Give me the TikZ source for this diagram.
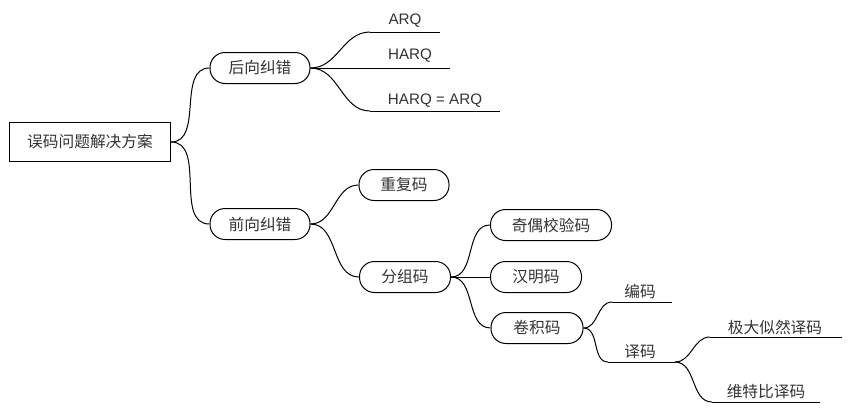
\documentclass[tikz,border=0pt]{standalone}
\usepackage{fontspec}
\setmainfont{Liberation Sans}
\newfontfamily\cjk{Noto Sans CJK SC}
\begin{document}
\begin{tikzpicture}[x=1pt,y=-1pt,line width=1pt,
  txt/.style={text=black!80,inner sep=0pt},
  cjkfont/.style={font=\cjk\fontsize{15.7}{18}\selectfont},
  latfont/.style={font=\fontsize{15.2}{18}\selectfont},
  rootbox/.style={draw,txt,cjkfont,minimum width=161pt,minimum height=39pt},
  pill/.style={draw,txt,cjkfont,rounded corners=15pt,minimum height=31pt},
  leaf/.style={txt,cjkfont},
  lleaf/.style={txt,latfont},
  link/.style={draw=black,line width=1pt},
  crv/.style={link,out=0,in=180,looseness=1}]
\useasboundingbox (0,0) rectangle (852,413);

% main nodes
\node[rootbox] (root) at (90,142) {误码问题解决方案};
\node[pill,minimum width=100pt] (hx) at (260,68) {后向纠错};
\node[pill,minimum width=100pt] (qx) at (260,224) {前向纠错};
\node[pill,minimum width=90pt] (cf) at (404,185) {重复码};
\node[pill,minimum width=91pt] (fz) at (405,277) {分组码};
\node[pill,minimum width=121pt] (jo) at (551,225) {奇偶校验码};
\node[pill,minimum width=91pt] (hm) at (536,277) {汉明码};
\node[pill,minimum width=92pt] (jj) at (537,328) {卷积码};

% leaf texts
\node[lleaf] (arq) at (405,21) {ARQ};
\node[lleaf] (harq) at (410,56) {HARQ};
\node[lleaf] (harq2) at (435,101) {HARQ = ARQ};
\node[leaf] (bm) at (640,291) {编码};
\node[leaf] (ym) at (640,352) {译码};
\node[leaf] (jd) at (775,327) {极大似然译码};
\node[leaf] (wt) at (766,392) {维特比译码};

% underline coordinates
\coordinate (arqA) at (370,32);  \coordinate (arqB) at (440,32);
\coordinate (harqB) at (450,68);
\coordinate (harq2A) at (370,111); \coordinate (harq2B) at (500,111);
\coordinate (bmA) at (612,302); \coordinate (bmB) at (672,302);
\coordinate (ymA) at (608,362); \coordinate (ymB) at (675,362);
\coordinate (jdA) at (710,337); \coordinate (jdB) at (842,337);
\coordinate (wtA) at (712,402); \coordinate (wtB) at (820,402);

% connectors
\draw[crv] (root.east) to (hx.west);
\draw[crv] (root.east) to (qx.west);
\draw[crv] (hx.east) to (arqA);
\draw[link] (arqA) -- (arqB);
\draw[link] (hx.east) -- (harqB);
\draw[crv] (hx.east) to (harq2A);
\draw[link] (harq2A) -- (harq2B);
\draw[crv] (qx.east) to (cf.west);
\draw[crv] (qx.east) to (fz.west);
\draw[crv] (fz.east) to (jo.west);
\draw[link] (fz.east) -- (hm.west);
\draw[crv] (fz.east) to (jj.west);
\draw[crv] (jj.east) to (bmA);
\draw[link] (bmA) -- (bmB);
\draw[crv] (jj.east) to (ymA);
\draw[link] (ymA) -- (ymB);
\draw[crv] (ymB) to (jdA);
\draw[link] (jdA) -- (jdB);
\draw[crv] (ymB) to (wtA);
\draw[link] (wtA) -- (wtB);
\end{tikzpicture}
\end{document}
